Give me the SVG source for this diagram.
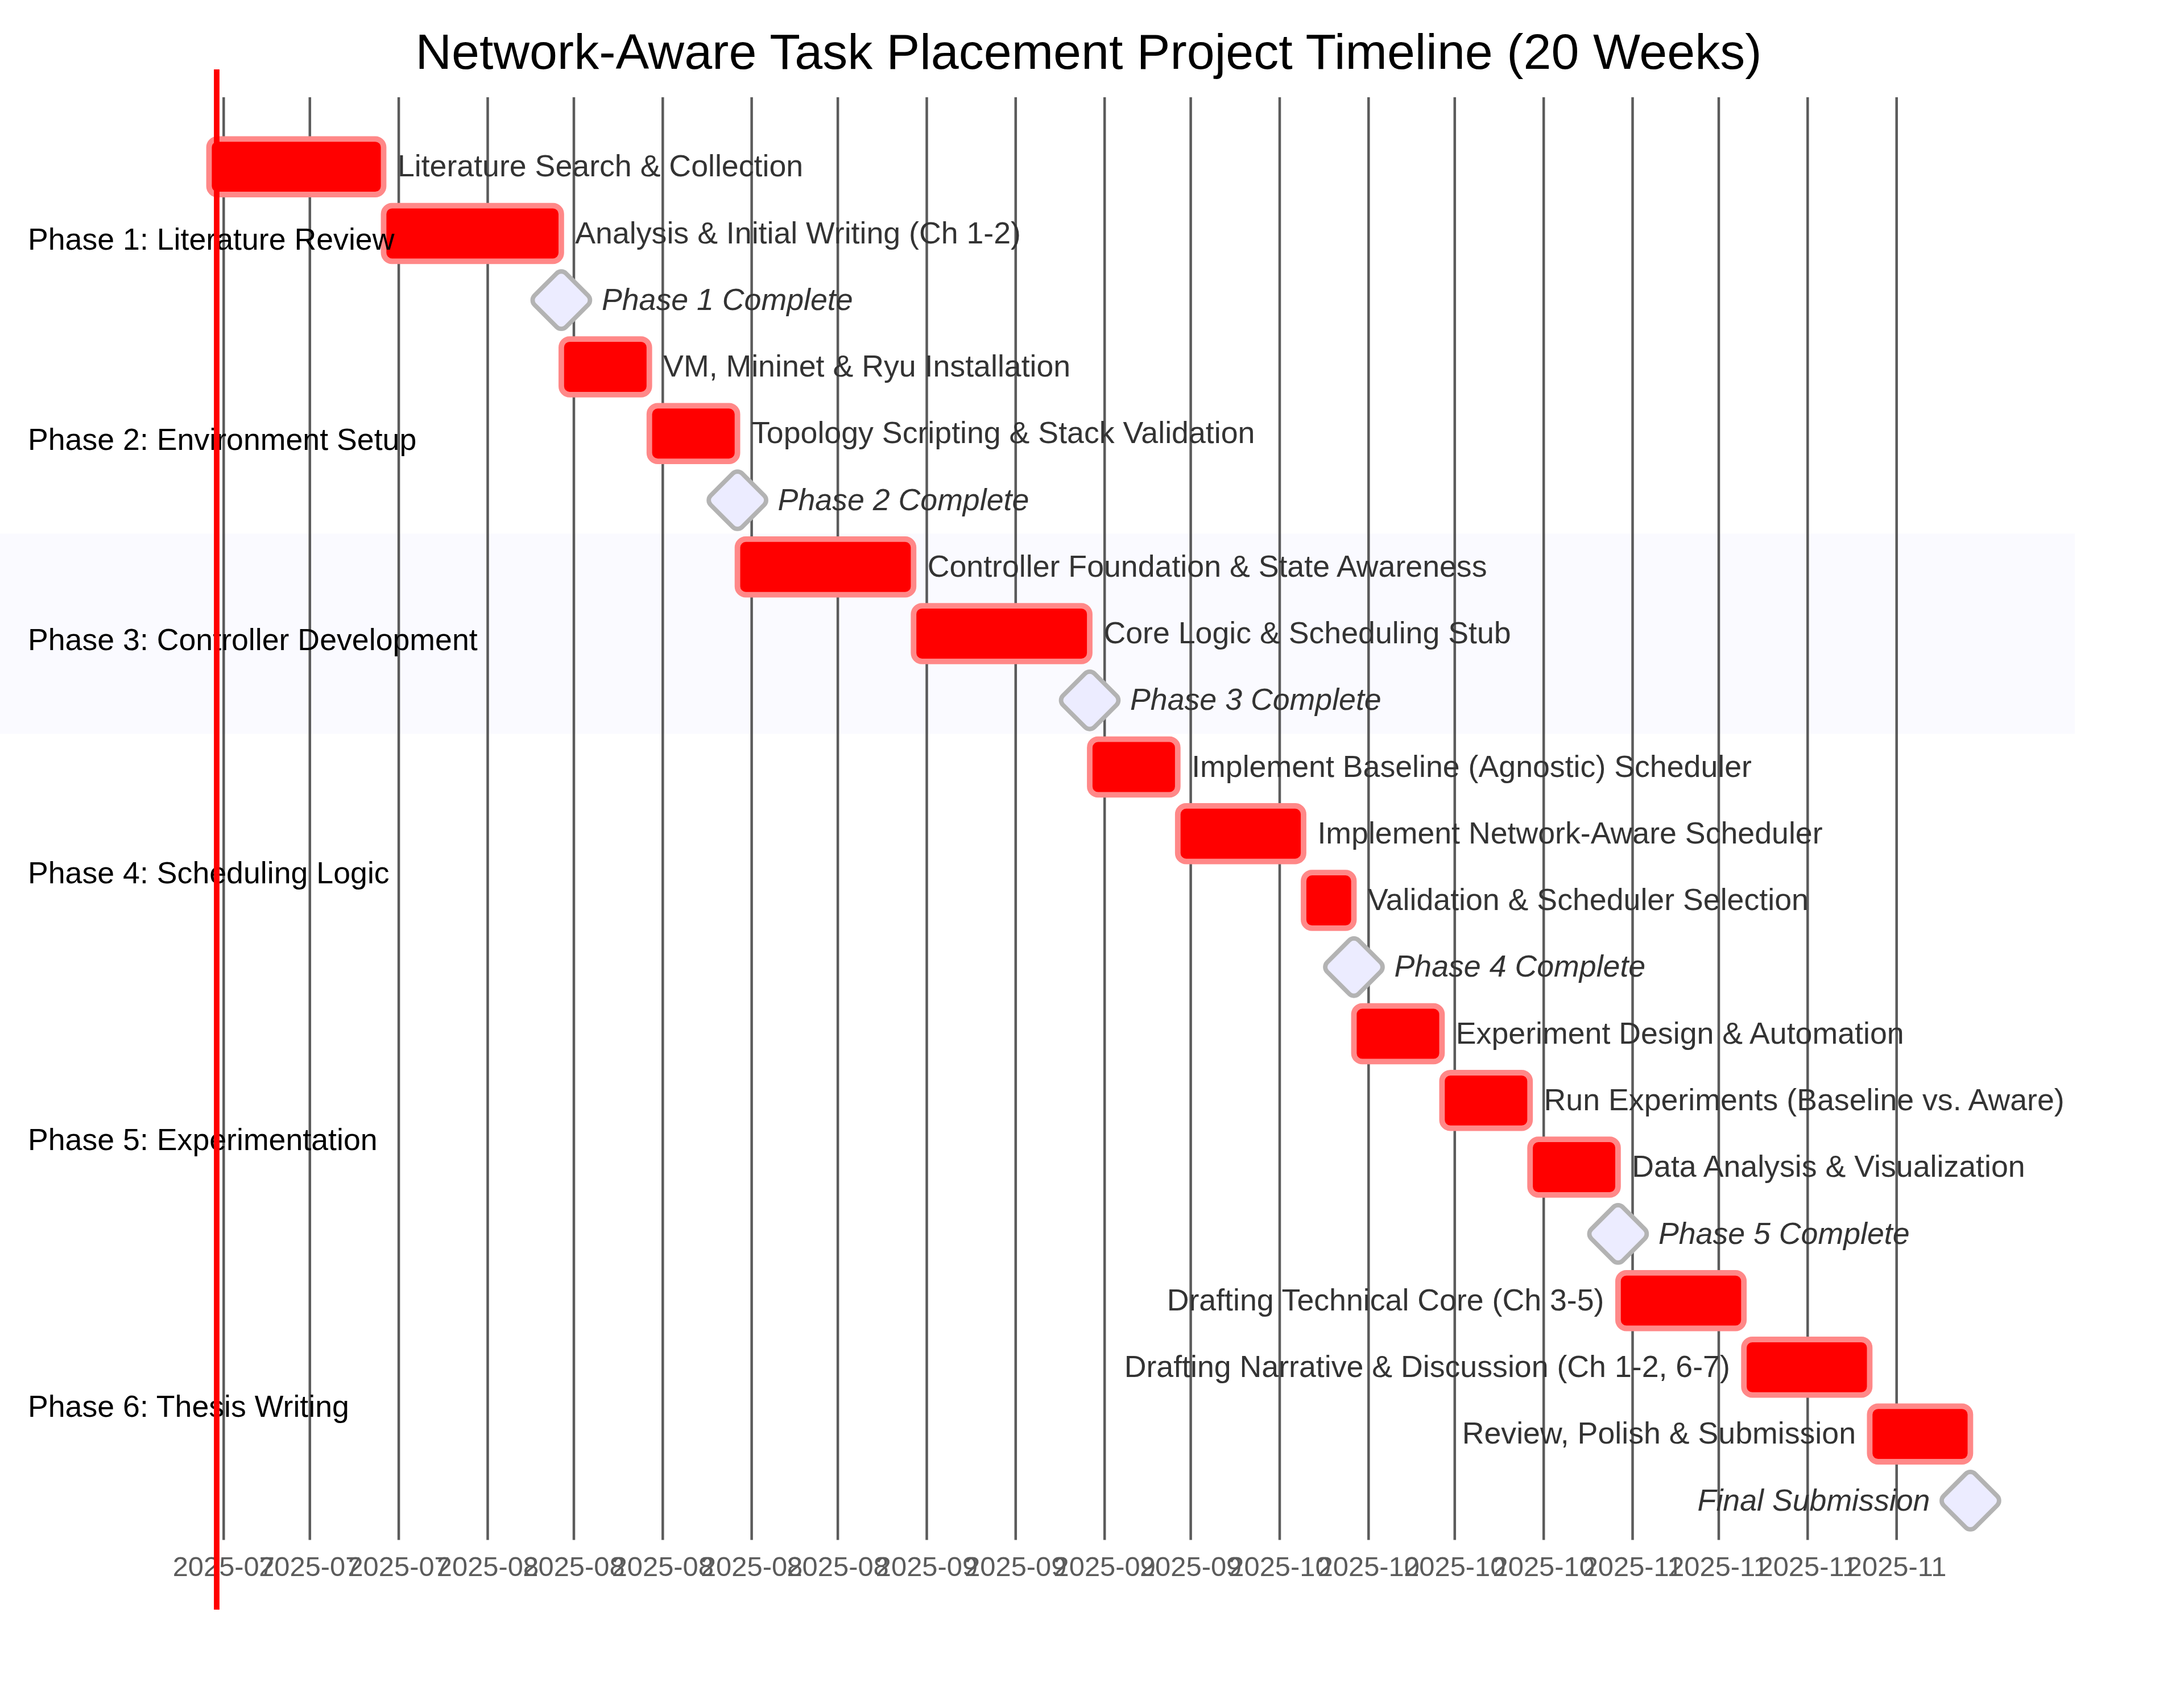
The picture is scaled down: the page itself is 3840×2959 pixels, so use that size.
<svg xmlns="http://www.w3.org/2000/svg" width="3840" height="2959" viewBox="0 0 3840 2959">
<style>
text{font-family:"Liberation Sans",Arial,Helvetica,sans-serif}
.title{font-size:88px;fill:#000;text-anchor:middle}
.sec{font-size:53.7px;fill:#000}
.lbl{font-size:53.7px;fill:#333}
.lblL{font-size:53.7px;fill:#333;text-anchor:end}
.ms{font-size:53.7px;fill:#333;font-style:italic}
.msL{font-size:53.7px;fill:#333;font-style:italic;text-anchor:end}
.bar{fill:#ff0000;stroke:#ff8888;stroke-width:9.8}
.mile{fill:#ececff;stroke:#b3b3b3;stroke-width:7.8}
.grid line{stroke:#333;stroke-width:4.5}
.grid{opacity:0.8}
.tick{font-size:48.86px;fill:#333;text-anchor:middle}
</style>
<rect width="3840" height="2959" fill="#fff"/>
<rect id="band-phase3" x="0" y="938.1" width="3648" height="351.8" fill="#fafaff"/>
<g id="grid" class="grid">
<line x1="393.3" y1="171" x2="393.3" y2="2707.5"/>
<line x1="544.8" y1="171" x2="544.8" y2="2707.5"/>
<line x1="701.1" y1="171" x2="701.1" y2="2707.5"/>
<line x1="857.5" y1="171" x2="857.5" y2="2707.5"/>
<line x1="1009.0" y1="171" x2="1009.0" y2="2707.5"/>
<line x1="1165.3" y1="171" x2="1165.3" y2="2707.5"/>
<line x1="1321.6" y1="171" x2="1321.6" y2="2707.5"/>
<line x1="1473.1" y1="171" x2="1473.1" y2="2707.5"/>
<line x1="1629.5" y1="171" x2="1629.5" y2="2707.5"/>
<line x1="1785.8" y1="171" x2="1785.8" y2="2707.5"/>
<line x1="1942.2" y1="171" x2="1942.2" y2="2707.5"/>
<line x1="2093.6" y1="171" x2="2093.6" y2="2707.5"/>
<line x1="2250.0" y1="171" x2="2250.0" y2="2707.5"/>
<line x1="2406.3" y1="171" x2="2406.3" y2="2707.5"/>
<line x1="2557.8" y1="171" x2="2557.8" y2="2707.5"/>
<line x1="2714.2" y1="171" x2="2714.2" y2="2707.5"/>
<line x1="2870.5" y1="171" x2="2870.5" y2="2707.5"/>
<line x1="3022.0" y1="171" x2="3022.0" y2="2707.5"/>
<line x1="3178.3" y1="171" x2="3178.3" y2="2707.5"/>
<line x1="3334.7" y1="171" x2="3334.7" y2="2707.5"/>
<text class="tick" x="393.3" y="2771">2025-07</text>
<text class="tick" x="544.8" y="2771">2025-07</text>
<text class="tick" x="701.1" y="2771">2025-07</text>
<text class="tick" x="857.5" y="2771">2025-08</text>
<text class="tick" x="1009.0" y="2771">2025-08</text>
<text class="tick" x="1165.3" y="2771">2025-08</text>
<text class="tick" x="1321.6" y="2771">2025-08</text>
<text class="tick" x="1473.1" y="2771">2025-08</text>
<text class="tick" x="1629.5" y="2771">2025-09</text>
<text class="tick" x="1785.8" y="2771">2025-09</text>
<text class="tick" x="1942.2" y="2771">2025-09</text>
<text class="tick" x="2093.6" y="2771">2025-09</text>
<text class="tick" x="2250.0" y="2771">2025-10</text>
<text class="tick" x="2406.3" y="2771">2025-10</text>
<text class="tick" x="2557.8" y="2771">2025-10</text>
<text class="tick" x="2714.2" y="2771">2025-10</text>
<text class="tick" x="2870.5" y="2771">2025-11</text>
<text class="tick" x="3022.0" y="2771">2025-11</text>
<text class="tick" x="3178.3" y="2771">2025-11</text>
<text class="tick" x="3334.7" y="2771">2025-11</text>
</g>
<text id="title" class="title" x="1914" y="121">Network-Aware Task Placement Project Timeline (20 Weeks)</text>
<g id="t1"><rect class="bar" x="367.5" y="244.3" width="307" height="97.7" rx="14.7"/><text class="lbl" x="698.9" y="310.3">Literature Search &amp; Collection</text></g>
<g id="t2"><rect class="bar" x="674.5" y="361.6" width="312.4" height="97.7" rx="14.7"/><text class="lbl" x="1011.3" y="427.6">Analysis &amp; Initial Writing (Ch 1-2)</text></g>
<g id="m1"><rect class="mile" x="-39.1" y="-39.1" width="78.2" height="78.2" rx="11.7" transform="translate(986.9 527.7) rotate(45)"/><text class="ms" x="1057.9" y="544.8">Phase 1 Complete</text></g>
<g id="t3"><rect class="bar" x="986.9" y="596.1" width="154.8" height="97.7" rx="14.7"/><text class="lbl" x="1166.1" y="662.1">VM, Mininet &amp; Ryu Installation</text></g>
<g id="t4"><rect class="bar" x="1141.7" y="713.4" width="154.9" height="97.7" rx="14.7"/><text class="lbl" x="1321" y="779.3">Topology Scripting &amp; Stack Validation</text></g>
<g id="m2"><rect class="mile" x="-39.1" y="-39.1" width="78.2" height="78.2" rx="11.7" transform="translate(1296.6 879.5) rotate(45)"/><text class="ms" x="1367.6" y="896.6">Phase 2 Complete</text></g>
<g id="t5"><rect class="bar" x="1296.6" y="947.9" width="309.7" height="97.7" rx="14.7"/><text class="lbl" x="1630.7" y="1013.9">Controller Foundation &amp; State Awareness</text></g>
<g id="t6"><rect class="bar" x="1606.3" y="1065.1" width="309.7" height="97.7" rx="14.7"/><text class="lbl" x="1940.4" y="1131.1">Core Logic &amp; Scheduling Stub</text></g>
<g id="m3"><rect class="mile" x="-39.1" y="-39.1" width="78.2" height="78.2" rx="11.7" transform="translate(1916 1231.3) rotate(45)"/><text class="ms" x="1987" y="1248.4">Phase 3 Complete</text></g>
<g id="t7"><rect class="bar" x="1916" y="1299.7" width="154.8" height="97.7" rx="14.7"/><text class="lbl" x="2095.2" y="1365.6">Implement Baseline (Agnostic) Scheduler</text></g>
<g id="t8"><rect class="bar" x="2070.8" y="1416.9" width="221.2" height="97.7" rx="14.7"/><text class="lbl" x="2316.4" y="1482.9">Implement Network-Aware Scheduler</text></g>
<g id="t9"><rect class="bar" x="2292" y="1534.2" width="88.5" height="97.7" rx="14.7"/><text class="lbl" x="2404.9" y="1600.2">Validation &amp; Scheduler Selection</text></g>
<g id="m4"><rect class="mile" x="-39.1" y="-39.1" width="78.2" height="78.2" rx="11.7" transform="translate(2380.5 1700.3) rotate(45)"/><text class="ms" x="2451.5" y="1717.4">Phase 4 Complete</text></g>
<g id="t10"><rect class="bar" x="2380.5" y="1768.7" width="154.9" height="97.7" rx="14.7"/><text class="lbl" x="2559.8" y="1834.7">Experiment Design &amp; Automation</text></g>
<g id="t11"><rect class="bar" x="2535.4" y="1886.0" width="154.8" height="97.7" rx="14.7"/><text class="lbl" x="2714.6" y="1951.9">Run Experiments (Baseline vs. Aware)</text></g>
<g id="t12"><rect class="bar" x="2690.2" y="2003.2" width="154.7" height="97.7" rx="14.7"/><text class="lbl" x="2869.3" y="2069.2">Data Analysis &amp; Visualization</text></g>
<g id="m5"><rect class="mile" x="-39.1" y="-39.1" width="78.2" height="78.2" rx="11.7" transform="translate(2844.9 2169.4) rotate(45)"/><text class="ms" x="2915.9" y="2186.5">Phase 5 Complete</text></g>
<g id="t13"><rect class="bar" x="2844.9" y="2237.8" width="221.3" height="97.7" rx="14.7"/><text class="lblL" x="2820.5" y="2303.7">Drafting Technical Core (Ch 3-5)</text></g>
<g id="t14"><rect class="bar" x="3066.2" y="2355.0" width="221.2" height="97.7" rx="14.7"/><text class="lblL" x="3041.8" y="2421.0">Drafting Narrative &amp; Discussion (Ch 1-2, 6-7)</text></g>
<g id="t15"><rect class="bar" x="3287.4" y="2472.3" width="177" height="97.7" rx="14.7"/><text class="lblL" x="3263" y="2538.2">Review, Polish &amp; Submission</text></g>
<g id="m6"><rect class="mile" x="-39.1" y="-39.1" width="78.2" height="78.2" rx="11.7" transform="translate(3464.4 2638.4) rotate(45)"/><text class="msL" x="3393.4" y="2655.5">Final Submission</text></g>
<g id="sections">
<text class="sec" x="48.9" y="439.1">Phase 1: Literature Review</text>
<text class="sec" x="48.9" y="790.8">Phase 2: Environment Setup</text>
<text class="sec" x="48.9" y="1142.6">Phase 3: Controller Development</text>
<text class="sec" x="48.9" y="1553.0">Phase 4: Scheduling Logic</text>
<text class="sec" x="48.9" y="2022.1">Phase 5: Experimentation</text>
<text class="sec" x="48.9" y="2491.1">Phase 6: Thesis Writing</text>
</g>
<g id="today"><line x1="381" y1="122" x2="381" y2="2830" stroke="#ff0000" stroke-width="9.8"/></g>
</svg>
